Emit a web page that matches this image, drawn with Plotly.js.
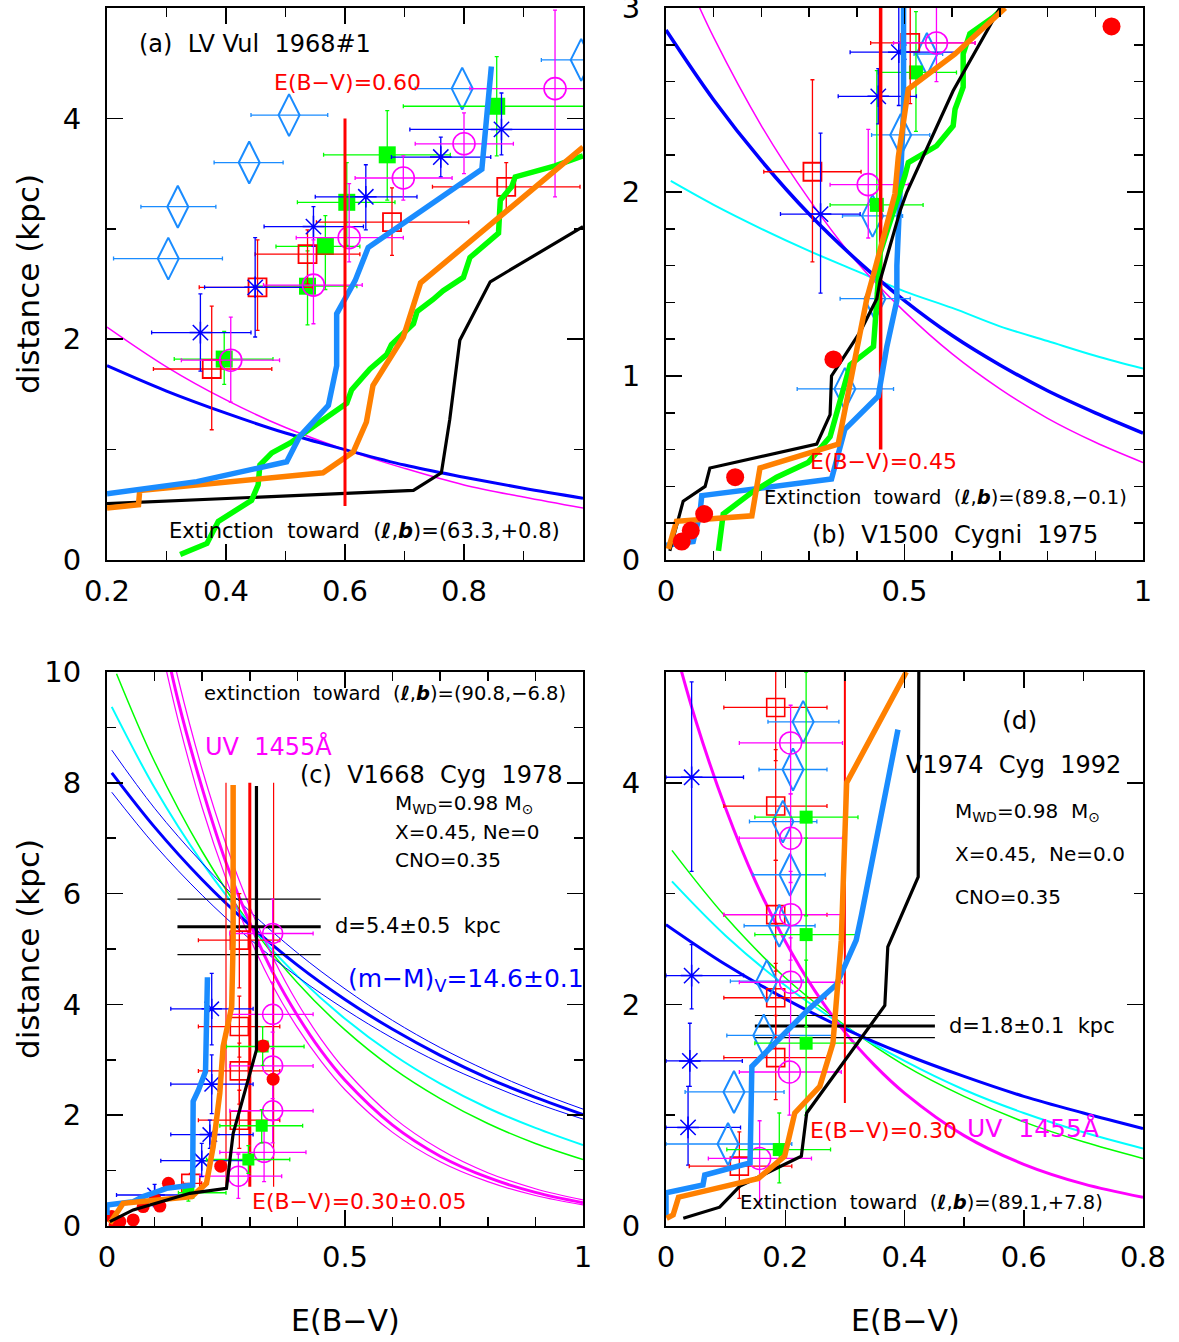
<!DOCTYPE html>
<html>
<head>
<meta charset="utf-8">
<script src="https://cdn.plot.ly/plotly-3.0.1.min.js"></script>
<style>
  html, body { margin: 0; padding: 0; background: #fff; }
  #chart { width: 1179px; height: 1342px; }
</style>
</head>
<body>
<div id="chart"></div>
<script>
// ---------------- tick labels ----------------
const aXTicks = [0.2, 0.4, 0.6, 0.8];
const aXText = ['0.2', '0.4', '0.6', '0.8'];
const bXTicks = [0, 0.5, 1];
const bXText = ['0', '0.5', '1'];
const dXTicks = [0, 0.2, 0.4, 0.6, 0.8];
const dXText = ['0', '0.2', '0.4', '0.6', '0.8'];
const aYTicks = [0, 2, 4];
const bYTicks = [0, 1, 2, 3];
const cYTicks = [0, 2, 4, 6, 8, 10];
const dYTicks = [0, 2, 4];

// ---------------- panel (a) LV Vul 1968#1 ----------------
// points: [E(B-V), d, xlo, xhi, ylo, yhi]
const aDiamonds = [[0.997,4.53,0.930,1.06],[0.797,4.27,0.718,0.844],[0.506,4.03,0.442,0.571],
  [0.439,3.60,0.380,0.496],[0.319,3.20,0.257,0.383],[0.303,2.73,0.211,0.394]];
const aGreenSq = [[0.855,4.11,0.698,1.05,3.66,4.56],[0.671,3.67,0.564,0.777,3.26,4.07],
  [0.603,3.24,0.520,0.684,2.85,3.60],[0.567,2.84,0.484,0.625,2.45,3.12],
  [0.537,2.48,0.450,0.620,2.13,2.80],[0.397,1.82,0.313,0.479,1.59,2.07]];
const aRedSq = [[0.871,3.38,0.747,0.995,3.15,3.60],[0.679,3.06,0.552,0.808,2.76,3.37],
  [0.537,2.77,0.449,0.625,2.50,2.99],[0.453,2.47,0.355,0.546,2.08,2.90],[0.376,1.73,0.278,0.477,1.18,2.30]];
const aStars = [[0.863,3.90,0.709,1.05,3.67,4.23],[0.761,3.65,0.678,0.845,3.47,3.83],
  [0.635,3.29,0.550,0.721,2.99,3.58],[0.547,3.02,0.464,0.631,2.84,3.20],
  [0.449,2.47,0.364,0.530,2.02,2.92],[0.357,2.06,0.275,0.442,1.71,2.41]];
const aCircles = [[0.953,4.27,0.810,1.05,3.29,4.98],[0.800,3.77,0.718,0.883,3.50,4.05],
  [0.698,3.46,0.617,0.780,3.26,3.66],[0.607,2.92,0.518,0.698,2.70,3.41],
  [0.547,2.49,0.463,0.629,2.14,2.90],[0.408,1.81,0.325,0.490,1.43,2.20]];
const aModBlue = [[0.2,1.76],[0.3,1.53],[0.4,1.33],[0.5,1.15],[0.6,1.0],[0.7,0.86],[0.8,0.75],[0.9,0.65],[1.0,0.56]];
const aModMag = [[0.2,2.11],[0.3,1.75],[0.4,1.45],[0.5,1.20],[0.6,1.0],[0.7,0.83],[0.8,0.68],[0.9,0.57],[1.0,0.47]];
const aBlack = [[0.2,0.51],[0.715,0.63],[0.762,0.79],[0.776,1.27],[0.793,1.99],[0.844,2.52],[1.0,3.02]];
const aOrange = [[0.2,0.47],[0.253,0.50],[0.255,0.63],[0.563,0.79],[0.614,0.98],[0.636,1.25],
  [0.647,1.58],[0.698,2.02],[0.727,2.51],[1.0,3.74]];
const aGreen = [[0.323,0.05],[0.368,0.15],[0.387,0.35],[0.418,0.45],[0.443,0.54],[0.454,0.68],
  [0.457,0.86],[0.477,0.97],[0.508,1.06],[0.547,1.21],[0.603,1.42],[0.611,1.54],[0.642,1.73],
  [0.670,1.86],[0.678,1.95],[0.715,2.14],[0.721,2.25],[0.748,2.36],[0.765,2.44],[0.799,2.56],
  [0.810,2.74],[0.858,2.96],[0.861,3.26],[0.880,3.38],[0.886,3.47],[0.953,3.57],[1.0,3.66]];
const aSky = [[0.2,0.60],[0.351,0.71],[0.502,0.89],[0.524,1.12],[0.572,1.40],[0.586,1.76],
  [0.586,2.23],[0.617,2.53],[0.639,2.83],[0.830,3.54],[0.846,4.47]];
const aEbv = [[0.60,0.49],[0.60,4.0]];

// ---------------- panel (b) V1500 Cyg 1975 ----------------
const bRedDots = [[0.934,2.90],[0.351,1.09],[0.145,0.45],[0.080,0.25],[0.052,0.16],[0.033,0.10]];
const bRedSq = [[0.512,2.81,0.429,0.648,2.48,3.05],[0.307,2.11,0.205,0.409,1.62,2.61]];
const bStars = [[0.488,2.76,0.386,0.609,2.47,3.05],[0.445,2.52,0.361,0.525,2.37,2.67],
  [0.324,1.88,0.240,0.407,1.45,2.32]];
const bGreenSq = [[0.524,2.65,0.445,0.609,2.33,2.98],[0.442,1.93,0.344,0.539,1.45,2.66]];
const bCircles = [[0.567,2.81,0.477,0.648,2.60,3.05],[0.424,2.04,0.344,0.508,1.75,2.34]];
const bDiamonds = [[0.547,2.75,0.520,0.580],[0.492,2.31,0.431,0.553],[0.433,1.87,0.370,0.496],
  [0.438,1.42,0.365,0.512],[0.375,0.93,0.275,0.477]];
const bModBlue = [[0,2.88],[0.1,2.50],[0.2,2.17],[0.3,1.88],[0.4,1.63],[0.5,1.41],[0.6,1.22],
  [0.7,1.06],[0.8,0.92],[0.9,0.80],[1.0,0.69]];
const bModMag = [[0.05,3.12],[0.1,2.84],[0.2,2.36],[0.3,1.96],[0.4,1.62],[0.5,1.35],[0.6,1.12],
  [0.7,0.93],[0.8,0.77],[0.9,0.64],[1.0,0.53]];
const bModCyan = [[0.01,2.06],[0.1,1.93],[0.2,1.80],[0.3,1.68],[0.4,1.57],[0.5,1.46],[0.6,1.37],
  [0.7,1.27],[0.8,1.19],[0.9,1.11],[1.0,1.04]];
const bBlack = [[0.008,0.05],[0.036,0.32],[0.082,0.40],[0.092,0.50],[0.316,0.63],[0.344,0.79],
  [0.347,1.00],[0.407,1.24],[0.442,1.42],[0.449,1.52],[0.491,1.90],[0.505,2.0],[0.602,2.55],
  [0.686,2.93],[0.700,3.0]];
const bOrange = [[0.005,0.06],[0.022,0.21],[0.180,0.24],[0.197,0.50],[0.361,0.63],[0.372,0.77],
  [0.414,1.30],[0.421,1.42],[0.438,1.58],[0.480,1.99],[0.487,2.19],[0.501,2.43],[0.508,2.56],
  [0.606,2.75],[0.711,3.0]];
const bGreen = [[0.110,0.05],[0.120,0.25],[0.176,0.36],[0.232,0.45],[0.298,0.53],[0.344,0.67],
  [0.386,1.06],[0.435,1.16],[0.442,1.41],[0.449,1.67],[0.501,2.09],[0.508,2.16],[0.567,2.25],
  [0.602,2.36],[0.606,2.45],[0.623,2.57],[0.623,2.75],[0.637,2.86],[0.686,2.95],[0.707,3.0]];
const bSky = [[0.0,0.08],[0.057,0.10],[0.071,0.25],[0.075,0.35],[0.347,0.44],[0.375,0.71],
  [0.445,0.89],[0.463,1.16],[0.484,1.41],[0.484,1.60],[0.498,2.45],[0.498,3.0]];
const bEbv = [[0.45,0.60],[0.45,3.0]];

// ---------------- panel (c) V1668 Cyg 1978 ----------------
const cRedSq = [[0.278,5.16,0.192,0.363,4.30,6.00],[0.278,3.60,0.192,0.363,3.05,4.15],
  [0.278,2.80,0.192,0.363,2.20,3.30],[0.278,1.91,0.192,0.363,1.40,2.45],[0.176,0.77,0.160,0.199,0.60,0.95]];
const cRedDots = [[0.239,1.08],[0.328,3.25],[0.349,2.65],[0.129,0.77],[0.101,0.48],[0.111,0.36],
  [0.076,0.35],[0.055,0.11],[0.027,0.08],[0.010,0.17],[0.017,0.02]];
const cStars = [[0.220,3.92,0.134,0.307,3.27,4.56],[0.220,2.56,0.134,0.307,2.03,3.09],
  [0.216,1.65,0.134,0.307,1.40,1.91],[0.199,1.18,0.113,0.290,0.89,1.49],[0.100,0.56,0.020,0.175,0.35,0.75]];
const cCircles = [[0.348,5.28,0.258,0.433,4.6,5.9],[0.348,3.82,0.258,0.433,3.2,4.4],
  [0.348,2.89,0.258,0.433,2.3,3.5],[0.348,2.08,0.258,0.433,1.5,2.7],
  [0.330,1.33,0.237,0.418,0.8,1.9],[0.276,0.90,0.195,0.367,0.5,1.3]];
const cGreenSq = [[0.327,3.24,0.251,0.414,2.9,3.6],[0.325,1.81,0.237,0.411,1.5,2.1],
  [0.297,1.20,0.209,0.384,0.95,1.45],[0.171,0.60,0.150,0.250,0.45,0.75]];
const cModBlue = [[0.01,8.18],[0.1,7.20],[0.2,6.25],[0.3,5.43],[0.4,4.71],[0.5,4.09],[0.6,3.55],
  [0.7,3.08],[0.8,2.67],[0.9,2.32],[1.0,2.01]];
const cModBlueHi = [[0.01,8.59],[0.1,7.54],[0.2,6.55],[0.3,5.68],[0.4,4.93],[0.5,4.28],[0.6,3.71],
  [0.7,3.22],[0.8,2.80],[0.9,2.43],[1.0,2.11]];
const cModBlueLo = [[0.01,7.83],[0.1,6.88],[0.2,5.97],[0.3,5.18],[0.4,4.50],[0.5,3.91],[0.6,3.39],
  [0.7,2.94],[0.8,2.56],[0.9,2.22],[1.0,1.93]];
const cModCyan = [[0.01,9.37],[0.1,7.91],[0.2,6.56],[0.3,5.44],[0.4,4.51],[0.5,3.74],[0.6,3.10],
  [0.7,2.57],[0.8,2.13],[0.9,1.77],[1.0,1.46]];
const cModGreen = [[0.02,9.97],[0.1,8.38],[0.2,6.76],[0.3,5.45],[0.4,4.39],[0.5,3.54],[0.6,2.85],
  [0.7,2.30],[0.8,1.85],[0.9,1.49],[1.0,1.20]];
const cUvMid = [[0.1,11.4],[0.15,9.46],[0.2,7.90],[0.25,6.56],[0.3,5.47],[0.35,4.55],[0.4,3.80],
  [0.45,3.16],[0.5,2.63],[0.6,1.82],[0.7,1.26],[0.8,0.876],[0.9,0.607],[1.0,0.421]];
const cUvHi = [[0.1,11.8],[0.15,9.86],[0.2,8.24],[0.25,6.89],[0.3,5.76],[0.35,4.82],[0.4,4.03],
  [0.45,3.37],[0.5,2.82],[0.6,1.97],[0.7,1.38],[0.8,0.962],[0.9,0.673],[1.0,0.470]];
const cUvLo = [[0.1,10.98],[0.15,9.11],[0.2,7.55],[0.25,6.27],[0.3,5.20],[0.35,4.31],[0.4,3.58],
  [0.45,2.97],[0.5,2.46],[0.6,1.69],[0.7,1.16],[0.8,0.80],[0.9,0.55],[1.0,0.38]];
const cOrange = [[0.006,0.05],[0.034,0.41],[0.178,0.53],[0.209,0.77],[0.223,1.43],[0.237,2.40],
  [0.244,3.24],[0.262,3.96],[0.265,5.16],[0.265,7.96]];
const cBlack = [[0.006,0.08],[0.027,0.17],[0.055,0.29],[0.174,0.59],[0.251,0.68],[0.265,1.67],
  [0.300,2.76],[0.314,3.18],[0.314,5.16],[0.314,7.94]];
const cSky = [[0.0,0.20],[0.0,0.38],[0.055,0.44],[0.076,0.53],[0.125,0.68],[0.180,0.74],
  [0.181,2.25],[0.192,2.45],[0.207,2.79],[0.211,4.49]];
const cEbv = [0.30, 0.25, 0.35];          // E(B-V) = 0.30 +/- 0.05
const cEbvSpan = [0.71, 8.0];
const cDist = [5.4, 4.9, 5.9];            // d = 5.4 +/- 0.5 kpc
const cDistSpan = [0.148, 0.449];

// ---------------- panel (d) V1974 Cyg 1992 ----------------
const dStars = [[0.043,4.05,0.0,0.130,3.20,4.91],[0.043,2.26,0.0,0.130,1.96,2.54],
  [0.040,1.49,0.0,0.128,1.26,1.83],[0.037,0.89,0.0,0.125,0.55,1.26]];
const dRedSq = [[0.184,4.68,0.097,0.270,4.2,5.1],[0.184,3.79,0.097,0.270,3.3,4.3],
  [0.184,2.81,0.097,0.270,2.3,3.3],[0.184,2.06,0.097,0.268,1.7,2.37],
  [0.184,1.52,0.097,0.270,1.14,1.9],[0.123,0.54,0.039,0.211,0.25,0.85]];
const dDiamonds = [[0.230,4.55,0.171,0.290],[0.213,4.12,0.156,0.270],[0.196,3.65,0.140,0.253],
  [0.208,3.17,0.146,0.267],[0.190,2.71,0.131,0.250],[0.169,2.21,0.108,0.230],
  [0.164,1.72,0.102,0.280],[0.114,1.21,0.032,0.198],[0.104,0.74,0.0,0.211]];
const dCircles = [[0.209,4.36,0.123,0.296,3.9,4.7],[0.209,3.50,0.123,0.296,3.1,3.9],
  [0.209,2.81,0.097,0.296,2.4,3.2],[0.209,2.20,0.123,0.296,1.8,2.6],
  [0.207,1.39,0.123,0.294,1.0,1.8],[0.157,0.61,0.071,0.244,0.2,0.95]];
const dGreenSq = [[0.235,3.69,0.149,0.322,2.8,5.0],[0.235,2.63,0.149,0.322,1.8,3.5],
  [0.235,1.65,0.149,0.322,1.0,2.4],[0.190,0.69,0.102,0.276,0.39,1.02]];
const dUv = [[0.0,5.52],[0.05,4.56],[0.1,3.77],[0.15,3.11],[0.2,2.57],[0.25,2.12],[0.3,1.75],
  [0.35,1.45],[0.4,1.20],[0.5,0.816],[0.6,0.557],[0.7,0.380],[0.8,0.259]];
const dModBlue = [[0,2.72],[0.1,2.36],[0.2,2.05],[0.3,1.78],[0.4,1.55],[0.5,1.35],[0.6,1.17],[0.7,1.02],[0.8,0.88]];
const dModCyan = [[0.01,3.11],[0.1,2.62],[0.2,2.17],[0.3,1.80],[0.4,1.49],[0.5,1.23],[0.6,1.02],[0.7,0.846],[0.8,0.700]];
const dModGreen = [[0.01,3.39],[0.1,2.79],[0.2,2.24],[0.3,1.81],[0.4,1.45],[0.5,1.17],[0.6,0.94],[0.7,0.76],[0.8,0.61]];
const dOrange = [[0.001,0.07],[0.012,0.10],[0.021,0.26],[0.155,0.43],[0.199,0.63],[0.216,1.02],
  [0.258,1.26],[0.280,1.65],[0.294,2.58],[0.303,4.0],[0.403,5.0]];
const dSky = [[0.0,0.08],[0.0,0.30],[0.062,0.37],[0.065,0.46],[0.141,0.57],[0.144,1.44],
  [0.238,1.95],[0.286,2.18],[0.319,2.58],[0.328,2.81],[0.389,4.48]];
const dBlack = [[0.029,0.07],[0.090,0.17],[0.124,0.36],[0.227,0.63],[0.236,1.02],[0.264,1.23],
  [0.367,1.99],[0.372,2.52],[0.423,3.15],[0.424,5.0]];
const dEbv = [[0.30,1.11],[0.30,5.0]];
const dDist = [1.805, 1.70, 1.90];        // d = 1.8 +/- 0.1 kpc
const dDistSpan = [0.149, 0.451];

// ---------------- colours & helpers ----------------
const FONT = 'DejaVu Sans, sans-serif';
const RED = '#ff0000', GRN = '#00ff00', MAG = '#ff00ff', BLU = '#0000ff',
      SKY = '#1a8cff', ORG = '#ff8000', CYN = '#00ffff', BLK = '#000000';
const W = 1179, H = 1342;

const col = (rows, i) => rows.map(r => r[i]);
const axId = (p, c) => p === 1 ? c : c + p;

function curve(p, rows, color, width, smooth) {
  return { type: 'scatter', mode: 'lines', xaxis: axId(p, 'x'), yaxis: axId(p, 'y'),
    x: col(rows, 0), y: col(rows, 1),
    line: { color: color, width: width, shape: smooth ? 'spline' : 'linear' },
    hoverinfo: 'skip', showlegend: false };
}

function points(p, rows, symbol, color, size, lw) {
  const t = { type: 'scatter', mode: 'markers', xaxis: axId(p, 'x'), yaxis: axId(p, 'y'),
    x: col(rows, 0), y: col(rows, 1),
    marker: { symbol: symbol, size: size, color: color, line: { color: color, width: lw } },
    hoverinfo: 'skip', showlegend: false };
  if (rows[0].length >= 4) {
    t.error_x = { type: 'data', symmetric: false, color: color, thickness: 1.3, width: 2,
      array: rows.map(r => r[3] - r[0]), arrayminus: rows.map(r => r[0] - r[2]) };
  }
  if (rows[0].length >= 6) {
    t.error_y = { type: 'data', symmetric: false, color: color, thickness: 1.3, width: 2,
      array: rows.map(r => r[5] - r[1]), arrayminus: rows.map(r => r[1] - r[4]) };
  }
  return t;
}

const traces = [];
// (a)
traces.push(curve(1, aModMag, MAG, 1.5, true), curve(1, aModBlue, BLU, 3, true));
traces.push(points(1, aDiamonds, 'diamond-tall-open', SKY, 30, 2));
traces.push(points(1, aGreenSq, 'square', GRN, 17, 0));
traces.push(points(1, aRedSq, 'square-open', RED, 18, 1.8));
traces.push(points(1, aStars, 'asterisk-open', BLU, 18, 1.5));
traces.push(points(1, aCircles, 'circle-open', MAG, 22, 1.6));
traces.push(curve(1, aBlack, BLK, 3.2), curve(1, aGreen, GRN, 5.5), curve(1, aOrange, ORG, 5.5),
  curve(1, aSky, SKY, 5.5), curve(1, aEbv, RED, 3));
// (b)
traces.push(curve(2, bModCyan, CYN, 2, true), curve(2, bModMag, MAG, 1.5, true), curve(2, bModBlue, BLU, 3.5, true));
traces.push(points(2, bDiamonds, 'diamond-tall-open', SKY, 30, 2));
traces.push(points(2, bGreenSq, 'square', GRN, 14, 0));
traces.push(points(2, bRedSq, 'square-open', RED, 18, 1.8));
traces.push(points(2, bStars, 'asterisk-open', BLU, 18, 1.5));
traces.push(points(2, bCircles, 'circle-open', MAG, 22, 1.6));
traces.push(curve(2, bEbv, RED, 3.5), curve(2, bSky, SKY, 5.5), curve(2, bGreen, GRN, 5.5),
  curve(2, bBlack, BLK, 3.2), curve(2, bOrange, ORG, 5.5));
traces.push(points(2, bRedDots, 'circle', RED, 18, 0));
// (c)
traces.push(curve(3, cModGreen, GRN, 1.5, true), curve(3, cModCyan, CYN, 2, true),
  curve(3, cModBlueHi, BLU, 1, true), curve(3, cModBlueLo, BLU, 1, true), curve(3, cModBlue, BLU, 3, true),
  curve(3, cUvHi, MAG, 1.2, true), curve(3, cUvLo, MAG, 1.2, true), curve(3, cUvMid, MAG, 3, true));
cDist.forEach((d, i) => traces.push(curve(3, [[cDistSpan[0], d], [cDistSpan[1], d]], BLK, i === 0 ? 3 : 1.2)));
cEbv.forEach((e, i) => traces.push(curve(3, [[e, cEbvSpan[0]], [e, cEbvSpan[1]]], RED, i === 0 ? 3 : 1.2)));
traces.push(points(3, cRedSq, 'square-open', RED, 18, 1.6));
traces.push(points(3, cCircles, 'circle-open', MAG, 20, 1.5));
traces.push(points(3, cStars, 'asterisk-open', BLU, 17, 1.5));
traces.push(points(3, cGreenSq, 'square', GRN, 12, 0));
traces.push(points(3, cRedDots, 'circle', RED, 13, 0));
traces.push(curve(3, cSky, SKY, 5.5), curve(3, cOrange, ORG, 5.5), curve(3, cBlack, BLK, 3.2));
// (d)
traces.push(curve(4, dModGreen, GRN, 1.5, true), curve(4, dModCyan, CYN, 2, true),
  curve(4, dModBlue, BLU, 3, true), curve(4, dUv, MAG, 3, true));
dDist.forEach((d, i) => traces.push(curve(4, [[dDistSpan[0], d], [dDistSpan[1], d]], BLK, i === 0 ? 3 : 1.2)));
traces.push(points(4, dStars, 'asterisk-open', BLU, 18, 1.5));
traces.push(points(4, dRedSq, 'square-open', RED, 18, 1.6));
traces.push(points(4, dDiamonds, 'diamond-tall-open', SKY, 30, 2));
traces.push(points(4, dCircles, 'circle-open', MAG, 22, 1.5));
traces.push(points(4, dGreenSq, 'square', GRN, 13, 0));
traces.push(curve(4, dEbv, RED, 2), curve(4, dBlack, BLK, 3.2), curve(4, dSky, SKY, 5.5), curve(4, dOrange, ORG, 5.5));

// ---------------- axes ----------------
const X_LEFT = [107 / W, 583 / W], X_RIGHT = [666 / W, 1143 / W];
const Y_TOP = [1 - 560 / H, 1 - 8 / H], Y_BOT = [1 - 1226 / H, 1 - 672 / H];

function axis(domain, anchor, range, vals, text, minorStep, standoff) {
  return {
    domain: domain, anchor: anchor, range: range, autorange: false,
    tickmode: 'array', tickvals: vals, ticktext: text,
    ticks: 'inside', ticklen: 16, tickwidth: 1.5, tickcolor: BLK,
    minor: { tickmode: 'linear', tick0: 0, dtick: minorStep, ticks: 'inside', ticklen: 9,
             tickwidth: 1.5, tickcolor: BLK, showgrid: false },
    showline: true, linecolor: BLK, linewidth: 2, mirror: 'ticks',
    showgrid: false, zeroline: false, fixedrange: true,
    ticklabelstandoff: standoff, ticklabeloverflow: 'allow',
    tickfont: { family: FONT, size: 29, color: BLK }
  };
}

const str = v => v.map(String);
const layout = {
  width: W, height: H, margin: { l: 0, r: 0, t: 0, b: 0 },
  paper_bgcolor: '#fff', plot_bgcolor: '#fff', showlegend: false,
  font: { family: FONT, color: BLK },
  xaxis:  axis(X_LEFT,  'y',  [0.2, 1.0], aXTicks, aXText, 0.1, 4),
  yaxis:  axis(Y_TOP,   'x',  [0, 5],  aYTicks, str(aYTicks), 1, 18),
  xaxis2: axis(X_RIGHT, 'y2', [0, 1],   bXTicks, bXText, 0.1, 4),
  yaxis2: axis(Y_TOP,   'x2', [0, 3],  bYTicks, str(bYTicks), 0.2, 18),
  xaxis3: axis(X_LEFT,  'y3', [0, 1],   bXTicks, bXText, 0.1, 4),
  yaxis3: axis(Y_BOT,   'x3', [0, 10], cYTicks, str(cYTicks), 1, 18),
  xaxis4: axis(X_RIGHT, 'y4', [0, 0.8], dXTicks, dXText, 0.1, 4),
  yaxis4: axis(Y_BOT,   'x4', [0, 5],  dYTicks, str(dYTicks), 1, 18),
  annotations: []
};

function note(text, px, py, size, color, extra) {
  layout.annotations.push(Object.assign({
    text: text, xref: 'paper', yref: 'paper', x: px / W, y: 1 - py / H,
    xanchor: 'left', yanchor: 'middle', showarrow: false,
    font: { family: FONT, size: size, color: color || BLK }
  }, extra || {}));
}
const LB = '(<b><i>ℓ</i></b>,<b><i>b</i></b>)';

// axis titles
note('distance (kpc)', 28, 284, 31, BLK, { xanchor: 'center', textangle: -90 });
note('distance (kpc)', 28, 949, 31, BLK, { xanchor: 'center', textangle: -90 });
note('E(B−V)', 345, 1320, 30, BLK, { xanchor: 'center' });
note('E(B−V)', 905, 1320, 30, BLK, { xanchor: 'center' });

// (a)
note('(a)  LV Vul  1968#1', 137, 44, 24);
note('E(B−V)=0.60', 272, 83, 22, RED);
note('Extinction  toward  ' + LB + '=(63.3,+0.8)', 167, 531, 21);
// (b)
note('E(B−V)=0.45', 808, 461, 22, RED);
note('Extinction  toward  ' + LB + '=(89.8,−0.1)', 762, 498, 19.5);
note('(b)  V1500  Cygni  1975', 810, 535, 24);
// (c)
note('extinction  toward  ' + LB + '=(90.8,−6.8)', 202, 693, 19.5);
note('UV  1455Å', 203, 746, 24, MAG);
note('(c)  V1668  Cyg  1978', 298, 775, 24);
note('M<sub>WD</sub>=0.98 M<sub>⊙</sub>', 393, 804, 20);
note('X=0.45, Ne=0', 393, 832, 20);
note('CNO=0.35', 393, 860, 20);
note('d=5.4±0.5  kpc', 333, 926, 21);
note('(m−M)<sub>V</sub>=14.6±0.1', 346, 980, 25, BLU);
note('E(B−V)=0.30±0.05', 250, 1201, 22, RED);
// (d)
note('(d)', 1000, 720, 25);
note('V1974  Cyg  1992', 904, 765, 24);
note('M<sub>WD</sub>=0.98  M<sub>⊙</sub>', 953, 812, 20);
note('X=0.45,  Ne=0.0', 953, 854, 20);
note('CNO=0.35', 953, 897, 20);
note('d=1.8±0.1  kpc', 947, 1026, 21);
note('E(B−V)=0.30', 808, 1130, 22, RED);
note('UV  1455Å', 965, 1128, 25, MAG);
note('Extinction  toward  ' + LB + '=(89.1,+7.8)', 738, 1202, 19.5);

Plotly.newPlot('chart', traces, layout, { staticPlot: true, displayModeBar: false });
</script>
</body>
</html>
